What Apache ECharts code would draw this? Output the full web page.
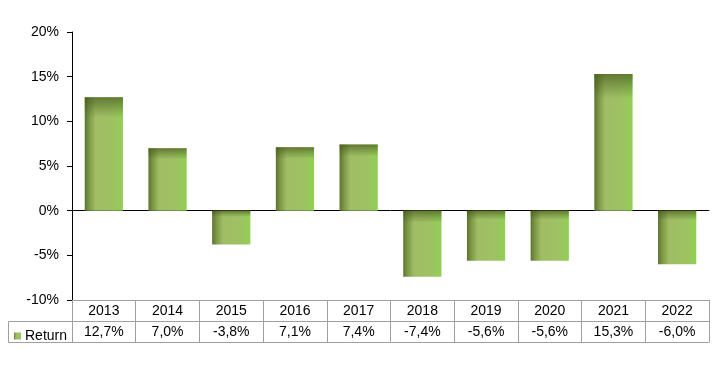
<!DOCTYPE html>
<html>
<head>
<meta charset="utf-8">
<script src="https://cdn.jsdelivr.net/npm/echarts@6/dist/echarts.min.js"></script>
<style>html,body{margin:0;padding:0;background:#fff;}#c{width:727px;height:371px;}</style>
</head>
<body>
<div id="c"></div>
<script>
const years = ['2013','2014','2015','2016','2017','2018','2019','2020','2021','2022'];
const returns = [12.7, 7.0, -3.8, 7.1, 7.4, -7.4, -5.6, -5.6, 15.3, -6.0];
const yTicks = {min: -10, max: 20, interval: 5};
const seriesName = 'Return';

const fmt = v => v.toFixed(1).replace('.', ',') + '%';
const FONT = 'Liberation Sans, Arial, sans-serif';
const GRAY = '#a0a0a0';

const chart = echarts.init(document.getElementById('c'));
const mainColor = new echarts.graphic.LinearGradient(0, 0, 1, 0, [
  {offset: 0, color: '#5c7430'},
  {offset: 0.12, color: '#7d9946'},
  {offset: 0.28, color: '#a0bd65'},
  {offset: 0.7, color: '#9ec163'},
  {offset: 1, color: '#92cf54'}
]);
const topShade = new echarts.graphic.LinearGradient(0, 0, 0, 1, [
  {offset: 0, color: 'rgba(70,90,28,0.7)'},
  {offset: 0.1, color: 'rgba(70,90,28,0.3)'},
  {offset: 0.18, color: 'rgba(70,90,28,0)'},
  {offset: 1, color: 'rgba(70,90,28,0)'}
]);

chart.setOption({
  animation: false,
  grid: {left: 72, right: 18, top: 32, bottom: 71, containLabel: false},
  legend: {
    data: [seriesName], left: 9, top: 324, itemWidth: 7, itemHeight: 7, itemGap: 4,
    icon: 'rect', textStyle: {fontFamily: FONT, fontSize: 14, color: '#000', padding: [0,0,0,-1]},
    selectedMode: false
  },
  xAxis: [
    {type: 'category', data: years, position: 'bottom',
     axisLine: {onZero: true, lineStyle: {color: '#000', width: 1}},
     axisTick: {show: false}, axisLabel: {show: false}},
    {type: 'category', data: years, position: 'bottom', offset: 0,
     axisLine: {onZero: false, lineStyle: {color: GRAY}},
     axisTick: {show: true, length: 42, interval: 0, lineStyle: {color: GRAY}},
     axisLabel: {interval: 0, margin: 4, fontFamily: FONT, fontSize: 14, color: '#000'}},
    {type: 'category', data: returns.map(fmt), position: 'bottom', offset: 21,
     axisLine: {onZero: false, lineStyle: {color: GRAY}},
     axisTick: {show: false},
     axisLabel: {interval: 0, margin: 4, fontFamily: FONT, fontSize: 14, color: '#000'}},
    {type: 'category', data: years, position: 'bottom', offset: 42,
     axisLine: {onZero: false, lineStyle: {color: GRAY}},
     axisTick: {show: false}, axisLabel: {show: false}}
  ],
  yAxis: {
    type: 'value', min: yTicks.min, max: yTicks.max, interval: yTicks.interval,
    axisLine: {show: true, lineStyle: {color: '#000'}},
    axisTick: {show: true, length: 5, lineStyle: {color: '#000'}},
    splitLine: {show: false},
    axisLabel: {formatter: '{value}%', margin: 13, fontFamily: FONT, fontSize: 14, color: '#000'}
  },
  graphic: [
    {type: 'polyline', silent: true,
     shape: {points: [[72.5, 321.5], [8.5, 321.5], [8.5, 342.5], [72.5, 342.5]]},
     style: {stroke: GRAY, fill: null, lineWidth: 1}}
  ],
  series: [
    {name: seriesName, type: 'bar', xAxisIndex: 0, data: returns, barWidth: '60%',
     itemStyle: {color: mainColor}, z: 2},
    {name: 'shade', type: 'bar', xAxisIndex: 0, data: returns, barWidth: '60%', barGap: '-100%',
     itemStyle: {color: topShade}, silent: true, z: 3}
  ]
});
</script>
</body>
</html>
